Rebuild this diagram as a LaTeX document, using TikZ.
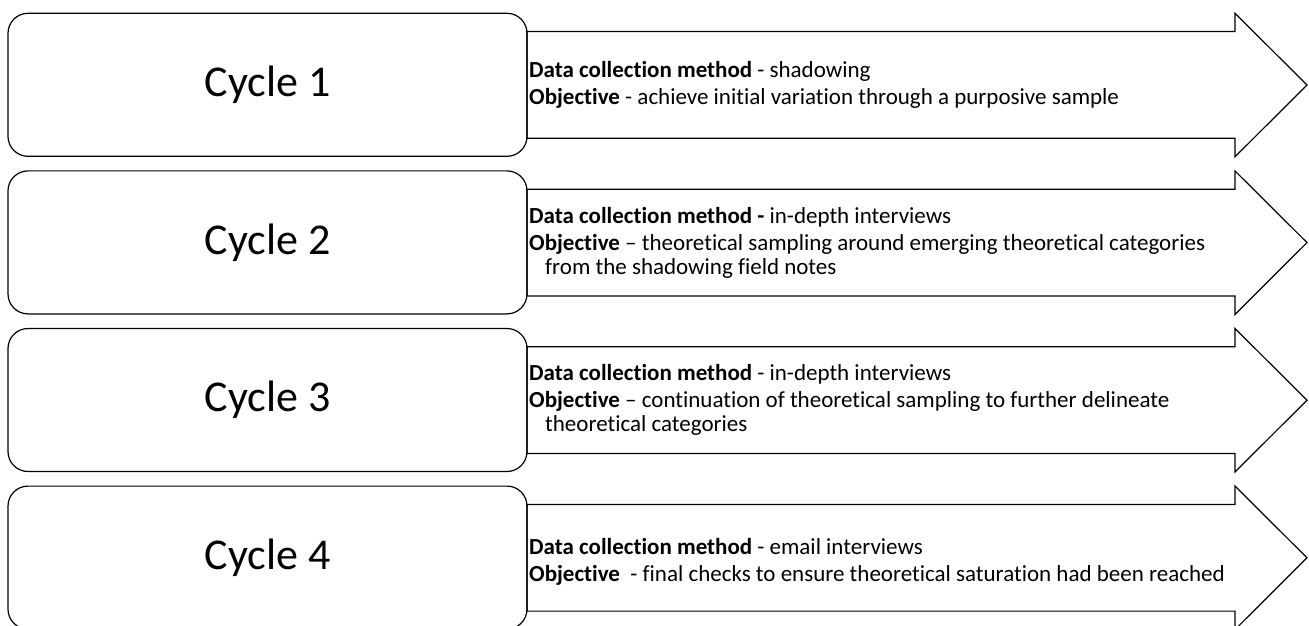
\documentclass[tikz,border=0pt]{standalone}
\usepackage{fontspec}
\setmainfont{Carlito}[Ligatures=NoCommon]
\begin{document}
\begin{tikzpicture}[x=1pt,y=1pt,
  cyclebox/.style={draw=black, line width=1.2pt, rounded corners=20pt},
  arrowshape/.style={draw=black, line width=1.2pt, line join=miter},
  cyclelabel/.style={font=\fontsize{44}{50}\selectfont, anchor=center},
  desc/.style={anchor=west, align=left, inner sep=0pt, font=\fontsize{23}{24}\selectfont}]
\clip (0,0) rectangle (1309,625);
\fill[white] (0,0) rectangle (1309,625);
\foreach \t [count=\k] in {611.7,454.1,296.5,138.9}{
  \draw[cyclebox] (8,\t) rectangle (527,\t-143) coordinate (box\k);
  \draw[arrowshape] (527,\t-18.3) -- (1235,\t-18.3) -- (1235,\t) -- (1307,\t-71.7)
     -- (1235,\t-143.5) -- (1235,\t-125) -- (527,\t-125) -- cycle;
}
\node[cyclelabel] (c1) at (267.5,540.0) {Cycle 1};
\node[cyclelabel] (c2) at (267.5,382.4) {Cycle 2};
\node[cyclelabel] (c3) at (267.5,224.8) {Cycle 3};
\node[cyclelabel] (c4) at (267.5,67.2) {Cycle 4};
\node[desc] (t1) at (529,540.5) {\textbf{Data collection method} - shadowing\\[3pt]
\textbf{Objective} - achieve initial variation through a purposive sample};
\node[desc] (t2) at (529,382.4) {\textbf{Data collection method -} in-depth interviews\\[3pt]
\textbf{Objective} – theoretical sampling around emerging theoretical categories\\
\hspace*{16pt}from the shadowing field notes};
\node[desc] (t3) at (529,224.8) {\textbf{Data collection method} - in-depth interviews\\[3pt]
\textbf{Objective} – continuation of theoretical sampling to further delineate\\
\hspace*{16pt}theoretical categories};
\node[desc] (t4) at (529,63.5) {\textbf{Data collection method} - email interviews\\[3pt]
\textbf{Objective}\ \ - final checks to ensure theoretical saturation had been reached};
\end{tikzpicture}
\end{document}
